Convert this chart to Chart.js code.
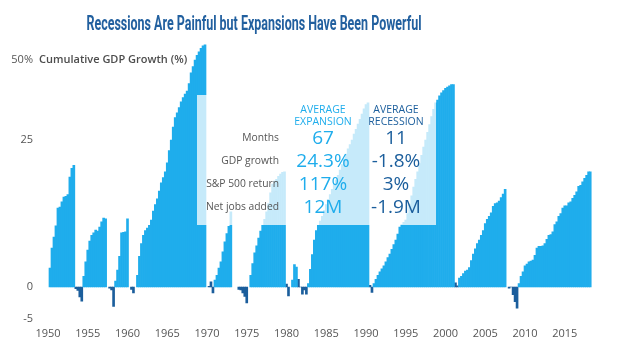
<!DOCTYPE html>
<html><head><meta charset="utf-8">
<script src="https://cdn.jsdelivr.net/npm/chart.js@4"></script>
<style>html,body{margin:0;padding:0;background:#fff;}#wrap{width:619px;height:359px;position:relative;}</style>
</head><body><div id="wrap"><canvas id="c" width="619" height="359"></canvas></div>
<script>
// ---- data (cumulative GDP growth within each expansion / recession, % per quarter) ----
const firstYear = 1950, lastYear = 2018, lastQuarter = 2;
const xTickLabels = ['1950','1955','1960','1965','1970','1975','1980','1985','1990','1995','2000','2005','2010','2015'];
const yTickLabels = ['-5','0','25','50%'];
const yTickPositions = [-5.4, 0, 25, 38.6];

const exp1950 = [3.2, 6.6, 8.5, 10.4, 13.4, 13.6, 14.5, 15.3, 15.4, 15.7, 18.7, 20.2, 20.7];
const rec1953 = [-0.3, -0.6, -1.7, -2.4];
const exp1954 = [1.8, 4.3, 6.3, 7.8, 8.8, 9.2, 9.7, 9.5, 10.2, 11.1, 11.7, 11.6];
const rec1957 = [-0.2, -0.5, -3.3];
const exp1958 = [1.0, 2.9, 5.2, 9.2, 9.3, 9.4, 11.6];
const rec1960 = [-0.4, -1.0];
const exp1961 = [2.0, 5.2, 7.4, 8.8, 9.6, 10.0, 10.5, 11.4, 12.9, 14.0, 15.0, 16.3, 17.7, 18.6, 19.6, 21.1, 23.2, 25.0, 27.2, 28.8, 29.6, 30.5, 31.5, 32.2, 32.8, 33.3, 34.6, 36.4, 37.5, 38.6, 39.4, 40.0, 40.6, 41.0, 41.2];
const rec1970 = [0.1, 0.9, -1.0];
const exp1971 = [1.2, 2.0, 3.2, 4.3, 6.0, 7.7, 9.1, 10.3, 12.8];
const rec1974 = [-0.4, -0.5, -1.0, -1.6, -2.7];
const exp1975 = [2.0, 4.0, 5.8, 7.0, 8.3, 9.5, 10.5, 11.5, 12.8, 14.2, 16.0, 17.5, 18.0, 18.3, 18.8, 19.2, 19.5, 19.6];
const rec1980 = [0.5, -1.5];
const exp1980 = [1.2, 3.8, 3.4];
const rec1981 = [1.3, 0.0, -1.2, -0.5, -1.2];
const exp1982 = [0.6, 3.0, 5.5, 8.0, 9.6, 10.5, 11.2, 12.0, 13.0, 14.0, 14.9, 15.7, 16.6, 17.5, 18.2, 19.0, 19.9, 20.8, 21.8, 22.6, 23.5, 24.2, 25.0, 26.0, 26.8, 27.7, 28.5, 29.4, 30.3, 31.0, 31.3];
const rec1990 = [0.3, -0.9];
const exp1991 = [0.6, 1.3, 2.0, 2.6, 3.1, 3.6, 4.3, 5.0, 5.6, 6.4, 7.2, 8.0, 9.0, 10.2, 10.6, 11.0, 11.4, 12.5, 14.0, 15.5, 17.0, 18.3, 19.6, 21.0, 22.4, 23.8, 25.0, 26.3, 27.6, 29.0, 30.2, 31.3, 31.8, 32.5, 33.0, 33.4, 33.8, 34.0, 34.2, 34.4, 34.4];
const rec2001 = [0.7, 0.2];
const exp2001 = [1.5, 1.8, 2.3, 2.7, 2.9, 3.3, 4.5, 5.6, 6.5, 7.4, 8.0, 8.8, 9.6, 10.8, 11.5, 12.0, 12.6, 13.7, 14.2, 14.3, 14.6, 15.2, 15.8, 16.6];
const rec2008 = [-0.2, 0.0, -1.3, -2.5, -3.6];
const exp2009 = [0.6, 1.8, 2.6, 3.6, 3.9, 4.3, 4.4, 4.6, 5.4, 6.6, 6.9, 6.9, 7.0, 7.4, 8.1, 8.8, 8.9, 9.4, 10.6, 11.1, 12.0, 12.5, 13.4, 13.8, 13.8, 14.3, 14.5, 15.1, 15.6, 16.2, 17.1, 17.3, 17.9, 18.5, 19.0, 19.6, 19.6];

const expansionSegments = [['1950 Q2', exp1950], ['1954 Q3', exp1954], ['1958 Q3', exp1958], ['1961 Q2', exp1961], ['1971 Q1', exp1971], ['1975 Q3', exp1975], ['1980 Q4', exp1980], ['1982 Q4', exp1982], ['1991 Q1', exp1991], ['2001 Q4', exp2001], ['2009 Q2', exp2009]];
const recessionSegments = [['1953 Q3', rec1953], ['1957 Q4', rec1957], ['1960 Q3', rec1960], ['1970 Q2', rec1970], ['1974 Q1', rec1974], ['1980 Q1', rec1980], ['1981 Q3', rec1981], ['1990 Q3', rec1990], ['2001 Q2', rec2001], ['2008 Q1', rec2008]];

const tableHeaders = [['AVERAGE', 'EXPANSION'], ['AVERAGE', 'RECESSION']];
const tableRows = ['Months', 'GDP growth', 'S&P 500 return', 'Net jobs added'];
const expansionStats = ['67', '24.3%', '117%', '12M'];
const recessionStats = ['11', '-1.8%', '3%', '-1.9M'];

const titleText = 'Recessions Are Painful but Expansions Have Been Powerful';
const yAxisTitle = 'Cumulative GDP Growth (%)';

// ---- build ----
const quarters = [];
for (let y = firstYear; y <= lastYear; y++) {
  for (let q = 1; q <= 4; q++) {
    if (y === lastYear && q > lastQuarter) break;
    quarters.push(y + ' Q' + q);
  }
}
function fill(segments) {
  const arr = quarters.map(() => null);
  segments.forEach(([start, vals]) => {
    const i0 = quarters.indexOf(start);
    vals.forEach((v, j) => { arr[i0 + j] = v; });
  });
  return arr;
}
const expansionData = fill(expansionSegments);
const recessionData = fill(recessionSegments);

const LIGHT = '#1fadec', DARK = '#1b5e9c', GREY = '#555555';

const overlayPlugin = {
  id: 'overlay',
  afterDatasetsDraw(chart) {
    const ctx = chart.ctx;
    ctx.save();
    ctx.fillStyle = 'rgba(255,255,255,0.75)';
    ctx.fillRect(197, 95, 239, 130);
    ctx.textAlign = 'center';
    ctx.textBaseline = 'middle';
    const colX = [323, 396];
    const colColor = [LIGHT, DARK];
    ctx.font = '10.5px "Open Sans"';
    tableHeaders.forEach((h, c) => {
      ctx.fillStyle = colColor[c];
      ctx.fillText(h[0], colX[c], 110);
      ctx.fillText(h[1], colX[c], 122);
    });
    const rowY = [138, 161, 184, 207];
    ctx.textAlign = 'right';
    ctx.fillStyle = GREY;
    ctx.font = '10.3px "Open Sans"';
    tableRows.forEach((r, i) => ctx.fillText(r, 279, rowY[i]));
    ctx.textAlign = 'center';
    ctx.font = '19px "Open Sans"';
    expansionStats.forEach((v, i) => { ctx.fillStyle = LIGHT; ctx.fillText(v, colX[0], rowY[i] + 1); });
    recessionStats.forEach((v, i) => { ctx.fillStyle = DARK; ctx.fillText(v, colX[1], rowY[i] + 1); });
    ctx.restore();
  },
  afterDraw(chart) {
    const ctx = chart.ctx;
    ctx.save();
    // title, condensed
    ctx.font = 'bold 21px "Liberation Sans Narrow", "Roboto", sans-serif';
    ctx.fillStyle = '#22609f';
    ctx.textBaseline = 'alphabetic';
    ctx.textAlign = 'left';
    const w = ctx.measureText(titleText).width;
    const target = 335;
    const sx = target / w;
    ctx.translate(254 - target / 2, 29.5);
    ctx.scale(sx, 1);
    ctx.fillText(titleText, 0, 0);
    ctx.restore();
    ctx.save();
    ctx.font = '600 11px "Open Sans"';
    ctx.fillStyle = '#4d4d4d';
    ctx.textAlign = 'left';
    ctx.textBaseline = 'middle';
    ctx.fillText(yAxisTitle, 39, 60);
    ctx.restore();
  }
};

new Chart(document.getElementById('c'), {
  type: 'bar',
  data: {
    labels: quarters,
    datasets: [
      { label: 'Expansion', data: expansionData, backgroundColor: LIGHT, borderWidth: 0, barPercentage: 1, categoryPercentage: 1, grouped: false },
      { label: 'Recession', data: recessionData, backgroundColor: DARK, borderWidth: 0, barPercentage: 1, categoryPercentage: 1, grouped: false }
    ]
  },
  options: {
    responsive: false,
    animation: false,
    devicePixelRatio: 1,
    layout: { padding: { top: 40, left: 0, right: 27.4, bottom: 0 } },
    plugins: { legend: { display: false }, tooltip: { enabled: false }, title: { display: false } },
    scales: {
      x: {
        type: 'category',
        offset: true,
        grid: { display: false, drawTicks: false },
        border: { display: false },
        ticks: {
          autoSkip: false, maxRotation: 0, minRotation: 0, padding: 5,
          color: GREY, font: { family: '"Open Sans"', size: 11 },
          callback: function (v) { return this.getLabelForValue(v).slice(0, 4); }
        },
        afterBuildTicks: (s) => { s.ticks = s.ticks.filter(t => xTickLabels.includes(quarters[t.value].slice(0, 4)) && quarters[t.value].endsWith('Q1')); },
        afterFit: (s) => { s.height = 36.7; }
      },
      y: {
        min: -6, max: 42,
        grid: { display: false, drawTicks: false },
        border: { display: false },
        ticks: {
          padding: 14, color: GREY, font: { family: '"Open Sans"', size: 11 },
          callback: (v, i) => yTickLabels[i]
        },
        afterBuildTicks: (s) => { s.ticks = yTickPositions.map(v => ({ value: v })); },
        afterFit: (s) => { s.width = 47; }
      }
    }
  },
  plugins: [overlayPlugin]
});
</script></body></html>
